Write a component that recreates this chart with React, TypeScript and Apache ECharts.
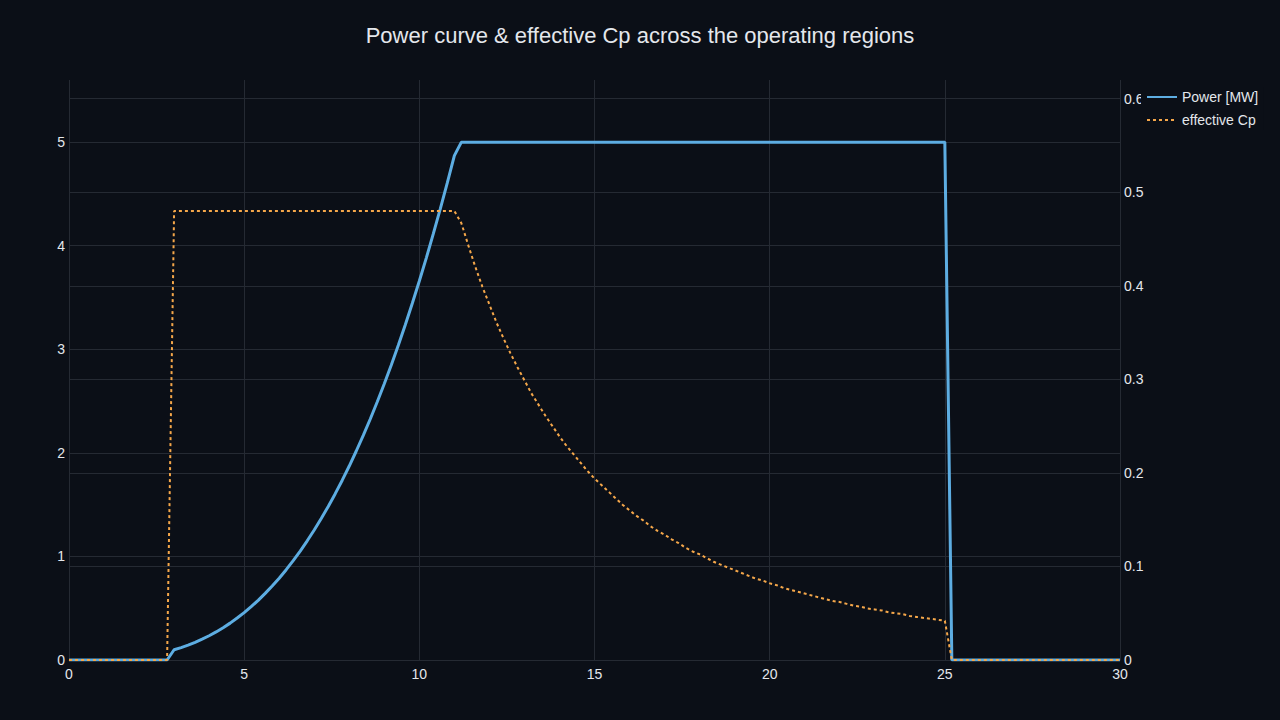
import * as echarts from "echarts"
import { useEffect, useRef } from "react"

// wind speed [m/s] samples for the power curve (flat stretches only need their ends)
const powerSpeed = [
  0, 2.8,
  3.0, 3.2, 3.4, 3.6, 3.8, 4.0, 4.2, 4.4, 4.6, 4.8,
  5.0, 5.2, 5.4, 5.6, 5.8, 6.0, 6.2, 6.4, 6.6, 6.8,
  7.0, 7.2, 7.4, 7.6, 7.8, 8.0, 8.2, 8.4, 8.6, 8.8,
  9.0, 9.2, 9.4, 9.6, 9.8, 10.0, 10.2, 10.4, 10.6, 10.8,
  11.0, 11.2, 25.0, 25.2, 30,
]
const powerMW = [
  0, 0,
  0.099, 0.12, 0.144, 0.171, 0.201, 0.234, 0.271, 0.312, 0.356, 0.405,
  0.457, 0.515, 0.576, 0.643, 0.714, 0.79, 0.872, 0.959, 1.052, 1.151,
  1.255, 1.366, 1.483, 1.606, 1.736, 1.873, 2.018, 2.169, 2.327, 2.494,
  2.667, 2.849, 3.039, 3.237, 3.444, 3.659, 3.883, 4.116, 4.358, 4.609,
  4.87, 5, 5, 0, 0,
]

// wind speed samples for the effective Cp curve
const cpSpeed = [
  0, 2.8, 3.0, 11.0,
  11.2, 11.4, 11.6, 11.8, 12.0, 12.2, 12.4, 12.6, 12.8, 13.0,
  13.2, 13.4, 13.6, 13.8, 14.0, 14.2, 14.4, 14.6, 14.8, 15.0,
  15.2, 15.4, 15.6, 15.8, 16.0, 16.2, 16.4, 16.6, 16.8, 17.0,
  17.2, 17.4, 17.6, 17.8, 18.0, 18.2, 18.4, 18.6, 18.8, 19.0,
  19.2, 19.4, 19.6, 19.8, 20.0, 20.2, 20.4, 20.6, 20.8, 21.0,
  21.2, 21.4, 21.6, 21.8, 22.0, 22.2, 22.4, 22.6, 22.8, 23.0,
  23.2, 23.4, 23.6, 23.8, 24.0, 24.2, 24.4, 24.6, 24.8, 25.0,
  25.2, 30,
]
const cpValue = [
  0, 0, 0.48, 0.48,
  0.467, 0.443, 0.42, 0.399, 0.38, 0.361, 0.344, 0.328, 0.313, 0.299,
  0.285, 0.273, 0.261, 0.25, 0.239, 0.229, 0.22, 0.211, 0.202, 0.194,
  0.187, 0.18, 0.173, 0.166, 0.16, 0.154, 0.149, 0.143, 0.138, 0.134,
  0.129, 0.125, 0.12, 0.116, 0.113, 0.109, 0.105, 0.102, 0.099, 0.096,
  0.093, 0.09, 0.087, 0.085, 0.082, 0.08, 0.077, 0.075, 0.073, 0.071,
  0.069, 0.067, 0.065, 0.063, 0.062, 0.06, 0.058, 0.057, 0.055, 0.054,
  0.053, 0.051, 0.05, 0.049, 0.047, 0.046, 0.045, 0.044, 0.043, 0.042,
  0, 0,
]

const BG = "#0b0f17"
const GRID = "#252a33"
const TEXT = "#e4e7ec"
const FONT = "'Liberation Sans', Arial, sans-serif"

export default function App() {
  const ref = useRef<HTMLDivElement>(null)

  useEffect(() => {
    if (!ref.current) return
    const chart = echarts.init(ref.current, null, { renderer: "svg" })

    const axisText = { color: TEXT, fontSize: 14, fontFamily: FONT }
    const split = { lineStyle: { color: GRID, width: 1 } }

    chart.setOption({
      animation: false,
      backgroundColor: BG,
      textStyle: { fontFamily: FONT },
      title: {
        text: "Power curve & effective Cp across the operating regions",
        left: "center",
        top: 19,
        textStyle: { color: TEXT, fontSize: 22, fontWeight: "normal", fontFamily: FONT },
      },
      grid: { left: 69, right: 160, top: 80, bottom: 60 },
      legend: {
        orient: "vertical",
        left: 1141,
        top: 87,
        padding: [3, 5, 3, 5],
        itemWidth: 30,
        itemHeight: 14,
        itemGap: 9,
        backgroundColor: BG,
        itemStyle: { opacity: 0 }, // line-only legend keys, no circle marker
        textStyle: { color: TEXT, fontSize: 14, fontFamily: FONT },
        data: ["Power [MW]", "effective Cp"],
      },
      xAxis: {
        type: "value",
        min: 0,
        max: 30,
        interval: 5,
        axisLine: { show: true, onZero: false, lineStyle: { color: GRID } },
        axisTick: { show: false },
        axisLabel: { ...axisText, margin: 7 },
        splitLine: split,
      },
      yAxis: [
        {
          type: "value",
          min: 0,
          max: 5.6,
          interval: 1,
          axisLine: { show: false },
          axisTick: { show: false },
          axisLabel: { ...axisText, margin: 4, showMaxLabel: false },
          splitLine: { ...split, showMaxLine: false },
        },
        {
          type: "value",
          position: "right",
          min: 0,
          max: 0.62,
          interval: 0.1,
          axisLine: { show: false },
          axisTick: { show: false },
          axisLabel: { ...axisText, margin: 4, showMaxLabel: false },
          splitLine: { ...split, showMaxLine: false },
        },
      ],
      series: [
        {
          name: "Power [MW]",
          type: "line",
          yAxisIndex: 0,
          symbol: "none",
          data: powerSpeed.map((v, i) => [v, powerMW[i]]),
          lineStyle: { color: "#5dade2", width: 3 },
          itemStyle: { color: "#5dade2" },
          z: 2,
        },
        {
          name: "effective Cp",
          type: "line",
          yAxisIndex: 1,
          symbol: "none",
          data: cpSpeed.map((v, i) => [v, cpValue[i]]),
          lineStyle: { color: "#f5a74a", width: 2, type: [3, 3] },
          itemStyle: { color: "#f5a74a" },
          z: 3,
        },
      ],
    })

    return () => chart.dispose()
  }, [])

  return (
    <div
      ref={ref}
      style={{ position: "fixed", left: 0, top: 0, width: 1280, height: 720, background: BG }}
    />
  )
}
